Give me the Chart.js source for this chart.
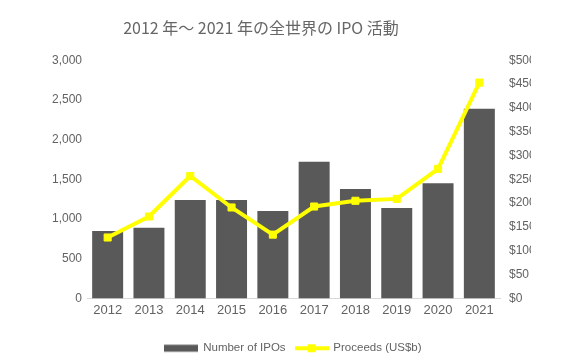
<!DOCTYPE html>
<html>
<head>
<meta charset="utf-8">
<script src="https://cdn.jsdelivr.net/npm/chart.js@4.4.1/dist/chart.umd.min.js"></script>
<style>
  html, body { margin: 0; padding: 0; background: #fff; }
  #wrap { width: 531px; height: 360px; overflow: hidden; }
</style>
</head>
<body>
<div id="wrap"><canvas id="chart" width="531" height="360"></canvas></div>
<script>
const years = ['2012', '2013', '2014', '2015', '2016', '2017', '2018', '2019', '2020', '2021'];
const ipoCounts = [850, 890, 1240, 1240, 1100, 1720, 1380, 1140, 1450, 2390];
const proceeds = [128, 172, 257, 191, 134, 193, 205, 209, 272, 453];
const countTicks = [0, 500, 1000, 1500, 2000, 2500, 3000];
const proceedsTicks = [0, 50, 100, 150, 200, 250, 300, 350, 400, 450, 500];

const barColor = '#595959';
const lineColor = '#ffff00';
const textColor = '#626262';
const sans = '"Liberation Sans", Arial, sans-serif';

// little swatches for the legend (bar box, line with square marker)
function swatch(kind) {
  const c = document.createElement('canvas');
  c.width = 34;
  c.height = 10;
  const g = c.getContext('2d');
  if (kind === 'bar') {
    g.fillStyle = barColor;
    g.fillRect(0, 1.5, 34, 7);
  } else {
    g.fillStyle = lineColor;
    g.fillRect(0, 3, 34, 4);
    g.fillRect(13, 1, 8, 8);
  }
  return c;
}
const swatches = [swatch('bar'), swatch('line')];

const ctx = document.getElementById('chart').getContext('2d');
new Chart(ctx, {
  type: 'bar',
  data: {
    labels: years,
    datasets: [
      {
        type: 'bar',
        label: 'Number of IPOs',
        data: ipoCounts,
        backgroundColor: barColor,
        yAxisID: 'y',
        categoryPercentage: 1,
        barPercentage: 0.75,
        order: 2,
      },
      {
        type: 'line',
        label: 'Proceeds (US$b)',
        data: proceeds,
        borderColor: lineColor,
        backgroundColor: lineColor,
        borderWidth: 4,
        pointStyle: 'rect',
        pointRadius: 5,
        pointBorderWidth: 1,
        tension: 0,
        yAxisID: 'y1',
        order: 1,
      },
    ]
  },
  options: {
    responsive: false,
    animation: false,
    layout: {
      padding: { left: -9, right: 0, top: 0, bottom: -4 },
    },
    plugins: {
      title: {
        display: true,
        text: '2012 年～ 2021 年の全世界の IPO 活動',
        color: '#666666',
        font: { family: '"Noto Sans CJK JP", "Noto Sans", sans-serif', size: 16, weight: 'normal' },
        padding: { top: 18, bottom: 23 },
      },
      legend: {
        position: 'bottom',
        fullSize: false,
        labels: {
          color: textColor,
          font: { family: sans, size: 11.5 },
          usePointStyle: true,
          pointStyleWidth: 32,
          padding: 10,
          sort: (a, b) => a.datasetIndex - b.datasetIndex,
          generateLabels: (chart) => {
            const items = Chart.defaults.plugins.legend.labels.generateLabels(chart);
            items.forEach(item => { item.pointStyle = swatches[item.datasetIndex]; });
            return items;
          },
        },
      },
      tooltip: { enabled: false },
    },
    scales: {
      x: {
        afterFit: (axis) => { axis.height = 34; },
        grid: { display: false, drawTicks: false },
        border: { display: true, color: '#d9d9d9' },
        ticks: {
          color: textColor,
          font: { family: sans, size: 13 },
          padding: 4.5,
        },
      },
      y: {
        position: 'left',
        min: 0,
        max: 3000,
        afterBuildTicks: (axis) => { axis.ticks = countTicks.map(v => ({ value: v })); },
        afterFit: (axis) => { axis.width = 96; },
        grid: { display: false, drawTicks: false },
        border: { display: false },
        ticks: {
          color: textColor,
          font: { family: sans, size: 12 },
          padding: 5,
          callback: (v) => v.toLocaleString('en-US'),
        },
      },
      y1: {
        position: 'right',
        min: 0,
        max: 500,
        afterBuildTicks: (axis) => { axis.ticks = proceedsTicks.map(v => ({ value: v })); },
        afterFit: (axis) => { axis.width = 31; },
        grid: { display: false, drawTicks: false },
        border: { display: false },
        ticks: {
          color: textColor,
          font: { family: sans, size: 12 },
          padding: 9,
          callback: (v) => '$' + v,
        },
      },
    },
  }
});
</script>
</body>
</html>
